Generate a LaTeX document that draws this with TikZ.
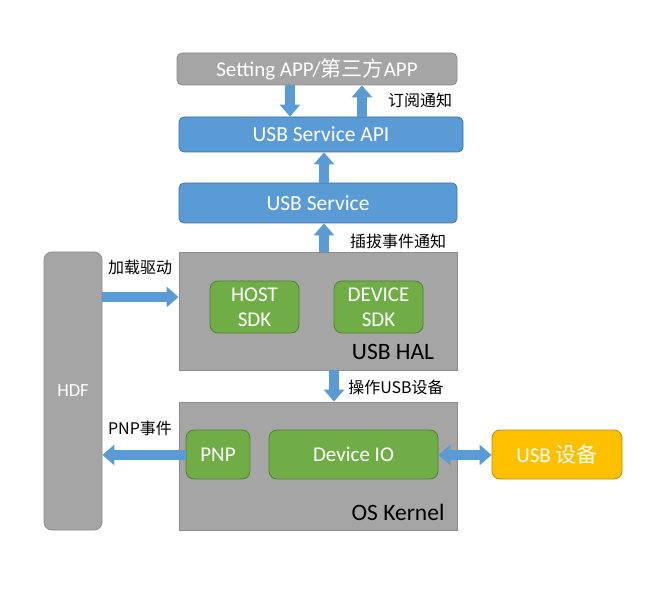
\documentclass[tikz,border=0pt]{standalone}
\usepackage{fontspec}
\setmainfont{Carlito}
\newfontfamily\cjk{Noto Sans CJK SC}
\usetikzlibrary{arrows.meta}
\definecolor{boxgray}{HTML}{A5A5A5}
\definecolor{graybd}{HTML}{8C8C8C}
\definecolor{blu}{HTML}{5B9BD5}
\definecolor{blubd}{HTML}{41719C}
\definecolor{grn}{HTML}{70AD47}
\definecolor{grnbd}{HTML}{507E32}
\definecolor{org}{HTML}{FFC000}
\definecolor{orgbd}{HTML}{BC8C00}
\tikzset{
  base/.style={rectangle, inner sep=0pt, align=center, text=white},
  graybox/.style={base, fill=boxgray, draw=graybd, line width=0.8pt, rounded corners=5pt},
  layer/.style={rectangle, inner sep=0pt, fill=boxgray, draw=graybd, line width=0.8pt},
  bluebox/.style={base, fill=blu, draw=blubd, line width=0.8pt, rounded corners=5pt, font=\fontsize{21.5}{24}\selectfont},
  greenbox/.style={base, fill=grn, draw=grnbd, line width=0.8pt, rounded corners=8pt, font=\fontsize{21}{25}\selectfont},
  orangebox/.style={base, fill=org, draw=orgbd, line width=0.8pt, rounded corners=8pt, font=\fontsize{21}{24}\selectfont},
  barrow/.style={draw=blu, line width=10pt, -{Triangle[width=20pt,length=12pt]}},
  dbarrow/.style={draw=blu, line width=10pt, {Triangle[width=20pt,length=12pt]}-{Triangle[width=20pt,length=12pt]}},
  lbl/.style={font=\cjk\fontsize{16}{18}\selectfont, text=black, inner sep=0pt},
  layertext/.style={font=\fontsize{23.5}{26}\selectfont, text=black, inner sep=0pt}
}
\begin{document}
\begin{tikzpicture}[x=1pt,y=-1pt]
\useasboundingbox (0,0) rectangle (658,609);
% boxes
\node[graybox, minimum width=280pt, minimum height=32pt, font=\fontsize{21}{24}\selectfont] (setting) at (317,69) {Setting APP/{\cjk 第三方}APP};
\node[bluebox, minimum width=284pt, minimum height=35pt] (api) at (321,134.5) {USB Service API};
\node[bluebox, minimum width=278pt, minimum height=40pt] (service) at (318,203) {USB Service};
\node[layer, minimum width=278pt, minimum height=118pt] (hal) at (318,311) {};
\node[layertext] (haltext) at (393,352) {USB HAL};
\node[greenbox, minimum width=89pt, minimum height=52pt] (host) at (254.5,307) {HOST\\SDK};
\node[greenbox, minimum width=89pt, minimum height=52pt] (device) at (378.5,307) {DEVICE\\SDK};
\node[graybox, rounded corners=8pt, minimum width=58pt, minimum height=278pt, font=\fontsize{18.5}{20}\selectfont] (hdf) at (73,391) {HDF};
\node[layer, minimum width=278pt, minimum height=128pt] (kernel) at (318,466) {};
\node[layertext] (kerneltext) at (398,512) {OS Kernel};
\node[greenbox, minimum width=64pt, minimum height=49pt] (pnp) at (218,454.5) {PNP};
\node[greenbox, minimum width=169pt, minimum height=49pt] (dio) at (353.5,454.5) {Device IO};
\node[orangebox, minimum width=130pt, minimum height=49pt] (usbdev) at (557,454.5) {USB {\cjk 设备}};
% arrow guides
\coordinate (xa) at (290,0);
\coordinate (xb) at (362,0);
\coordinate (xc) at (324,0);
\coordinate (xd) at (334,0);
\coordinate (ya) at (0,297);
\coordinate (yb) at (0,455);
% arrows
\draw[barrow] (setting.south -| xa) -- (api.north -| xa);
\draw[barrow] (api.north -| xb) -- (setting.south -| xb);
\draw[barrow] (service.north -| xc) -- (api.south -| xc);
\draw[barrow] (hal.north -| xc) -- (service.south -| xc);
\draw[barrow] (hdf.east |- ya) -- (hal.west |- ya);
\draw[barrow] (hal.south -| xd) -- (kernel.north -| xd);
\draw[barrow] (pnp.west |- yb) -- (hdf.east |- yb);
\draw[dbarrow] (dio.east |- yb) -- (usbdev.west |- yb);
% labels
\node[lbl] (l1) at (420,100) {订阅通知};
\node[lbl] (l2) at (398,241) {插拔事件通知};
\node[lbl] (l3) at (140,267) {加载驱动};
\node[lbl] (l4) at (396,387) {操作USB设备};
\node[lbl] (l5) at (140,428) {PNP事件};
\end{tikzpicture}
\end{document}
